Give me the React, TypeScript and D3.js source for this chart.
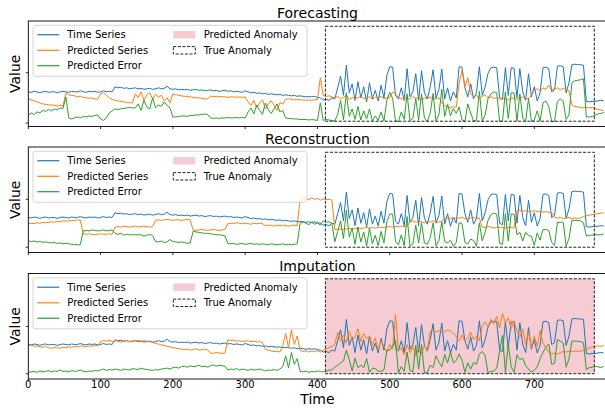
import React from "react";
import * as d3 from "d3";

// ---------- data (sampled every 4 time steps) ----------
const time = d3.range(0, 800, 4);

const timeSeries = [
  0.62,0.61,0.63,0.62,0.60,0.62,0.63,0.61,0.62,0.62,
  0.60,0.62,0.63,0.62,0.61,0.63,0.62,0.62,0.64,0.62,
  0.61,0.63,0.62,0.63,0.61,0.62,0.64,0.62,0.63,0.62,
  0.72,0.70,0.71,0.69,0.70,0.68,0.69,0.70,0.68,0.69,0.67,0.68,0.69,0.67,0.68,0.70,0.68,0.69,
  0.73,
  0.68,0.67,0.68,0.66,0.67,0.66,0.67,0.65,0.66,0.67,0.65,0.66,0.64,0.65,0.66,0.64,0.65,0.63,0.64,0.65,0.63,0.64,0.62,0.63,0.62,0.61,
  0.64,0.62,0.60,0.61,0.59,0.60,0.58,0.59,0.57,0.58,0.57,0.56,0.57,0.55,0.56,0.55,0.54,0.55,0.53,0.54,0.53,0.52,0.53,
  0.52,0.53,0.51,0.50,0.46,0.47,0.45,
  0.50,0.48,0.70,0.93,0.55,1.15,0.60,0.78,0.45,0.82,
  0.50,0.72,0.42,0.80,0.48,0.65,0.44,0.75,0.50,0.95,
  1.12,1.11,0.55,0.48,0.70,0.45,1.08,0.52,0.62,0.98,
  0.45,1.04,0.60,0.48,0.72,1.06,0.50,0.66,1.07,0.48,
  0.70,0.44,0.62,0.50,1.12,1.11,0.70,0.52,0.78,0.48,
  0.60,1.12,0.55,0.72,0.99,1.10,1.11,1.10,0.50,0.47,
  1.10,0.55,1.10,1.09,0.50,1.08,0.62,0.45,0.98,0.52,
  0.72,0.44,0.60,1.10,1.11,1.08,0.62,0.66,1.13,1.14,
  1.12,0.60,0.80,1.16,1.17,1.16,1.16,1.15,
  0.43,0.42,0.43,0.43,0.44,0.45,0.44,
];

const forecastPred = [
  0.49,0.46,0.44,0.42,0.40,0.38,0.37,0.36,0.36,0.35,0.34,0.35,0.34,
  0.60,
  0.56,0.55,0.54,0.52,0.53,0.51,0.50,0.49,0.50,0.48,0.47,
  0.58,0.60,0.55,
  0.50,0.47,0.45,0.44,0.43,0.42,0.41,0.40,0.40,
  0.58,0.50,0.62,0.45,0.56,0.60,0.48,0.57,0.52,0.55,0.44,0.50,
  0.40,
  0.58,0.56,0.55,0.54,0.53,0.53,0.52,0.51,0.50,0.50,0.49,0.48,0.48,
  0.53,0.53,0.52,0.53,0.52,0.52,0.51,0.52,0.52,0.51,0.52,0.51,0.52,
  0.42,0.35,0.45,0.30,0.40,0.46,0.28,0.38,0.44,0.36,0.25,0.40,0.38,
  0.47,0.48,0.47,0.46,0.47,0.46,0.46,0.45,0.46,0.45,0.46,0.47,0.90,
  0.55,0.53,0.54,
  0.52,0.50,0.53,0.48,0.51,0.55,0.47,0.50,0.52,0.49,
  0.54,0.48,0.50,0.52,0.47,0.51,0.49,0.53,0.48,0.50,
  0.51,0.62,0.58,0.50,0.48,0.52,0.50,0.47,0.53,0.49,
  0.51,0.46,0.50,0.48,0.52,0.47,0.49,0.50,0.40,0.35,
  0.32,0.30,0.33,0.31,0.80,1.05,0.72,0.90,0.58,0.52,
  0.55,0.49,0.53,0.56,0.50,0.52,0.49,0.50,0.47,0.51,
  0.48,0.46,0.50,0.49,0.47,0.50,0.52,0.48,0.49,0.55,
  0.66,0.68,0.64,0.70,0.67,0.75,0.65,0.68,0.70,0.66,
  0.69,0.67,0.64,0.36,0.33,0.32,0.31,0.30,
  0.31,0.30,0.31,0.29,0.27,0.26,0.24,
];

const forecastErr = [
  0.15,0.20,0.17,0.22,0.20,0.25,0.23,0.27,0.24,0.28,0.26,0.30,0.29,
  0.52,
  0.10,0.08,0.10,0.12,0.10,0.13,0.12,0.14,0.13,0.15,0.16,
  0.08,0.05,0.10,
  0.20,0.24,0.28,0.27,0.28,0.29,0.30,0.31,0.30,
  0.30,0.38,0.25,0.45,0.32,0.28,0.50,0.30,0.36,0.33,0.42,0.35,
  0.30,
  0.12,0.12,0.13,0.14,0.14,0.13,0.15,0.15,0.16,0.16,0.17,0.18,0.17,
  0.10,0.09,0.10,0.09,0.10,0.10,0.11,0.10,0.10,0.11,0.10,0.11,0.10,
  0.22,0.30,0.18,0.36,0.25,0.17,0.40,0.26,0.19,0.28,0.38,0.22,0.25,
  0.10,0.09,0.09,0.08,0.08,0.07,0.07,0.07,0.06,0.07,0.06,0.05,0.40,
  0.05,0.07,0.06,
  0.05,0.04,0.17,0.45,0.06,0.60,0.13,0.28,0.07,0.33,
  0.06,0.24,0.08,0.28,0.04,0.14,0.05,0.22,0.04,0.45,
  0.61,0.49,0.04,0.03,0.22,0.07,0.58,0.05,0.09,0.49,
  0.06,0.58,0.10,0.03,0.20,0.59,0.04,0.16,0.67,0.13,
  0.38,0.14,0.29,0.19,0.32,0.06,0.03,0.38,0.20,0.04,
  0.05,0.63,0.03,0.16,0.49,0.58,0.62,0.60,0.03,0.04,
  0.62,0.09,0.60,0.60,0.04,0.58,0.10,0.03,0.49,0.03,
  0.06,0.24,0.04,0.40,0.44,0.33,0.03,0.03,0.43,0.48,
  0.43,0.07,0.16,0.80,0.84,0.85,0.86,0.88,
  0.12,0.12,0.13,0.15,0.18,0.19,0.21,
];

const reconPred = [
  0.49,0.50,0.49,0.51,0.50,0.52,0.51,0.52,0.53,0.52,0.54,0.53,0.55,0.54,0.55,0.56,0.56,0.57,
  0.56,
  0.28,0.27,0.28,0.27,0.26,0.27,0.28,0.27,0.27,0.28,0.27,
  0.42,0.43,0.42,0.44,0.43,0.42,0.43,0.44,0.42,0.43,0.44,0.43,0.42,0.43,
  0.56,0.57,0.56,0.57,0.58,0.57,0.56,0.57,0.57,0.56,0.57,0.58,0.57,
  0.36,0.35,0.36,0.37,0.36,0.35,0.36,0.37,0.36,0.35,0.36,0.37,
  0.49,0.50,0.49,0.51,0.50,0.49,0.50,0.49,0.48,0.50,0.49,0.50,0.49,
  0.45,0.46,0.45,0.44,0.46,0.45,0.46,0.45,0.44,0.45,0.46,0.45,
  1.00,1.05,1.02,0.99,1.03,1.00,1.02,0.98,1.01,0.99,1.00,0.98,
  0.37,
  0.37,0.38,0.37,0.38,0.39,0.38,0.39,0.40,0.39,0.40,0.41,0.40,0.41,0.40,0.41,0.42,0.41,0.42,0.43,0.42,0.43,0.43,0.44,0.43,0.44,
  0.53,0.55,0.52,0.54,0.53,0.51,0.54,0.52,0.55,0.53,0.52,0.54,
  0.60,0.61,0.59,0.62,0.60,0.61,0.62,0.60,0.59,0.61,0.62,0.60,0.61,
  0.42,0.41,0.43,0.42,0.40,0.41,0.42,0.41,0.40,0.42,0.41,0.40,
  0.76,0.77,0.75,0.76,0.74,0.75,0.76,0.74,0.75,0.73,0.74,0.73,0.72,
  0.62,0.61,0.62,0.60,0.61,0.62,0.60,0.61,0.60,0.61,
  0.64,0.66,0.67,0.68,0.69,0.70,0.71,0.72,
];

const reconErr = [
  0.13,0.12,0.13,0.11,0.12,0.10,0.11,0.10,0.09,0.10,0.08,0.09,0.07,0.08,0.07,0.06,0.06,0.05,
  0.05,
  0.34,0.35,0.34,0.36,0.35,0.34,0.35,0.36,0.34,0.35,0.36,
  0.29,0.27,0.29,0.25,0.27,0.26,0.26,0.26,0.26,0.26,0.23,0.25,0.27,0.24,
  0.12,0.11,0.13,0.10,0.11,0.16,0.12,0.11,0.10,0.11,0.10,0.08,0.09,
  0.33,0.32,0.31,0.30,0.29,0.29,0.28,0.27,0.26,0.26,0.25,0.24,
  0.08,0.07,0.08,0.06,0.07,0.08,0.06,0.07,0.08,0.06,0.07,0.06,0.07,
  0.06,0.05,0.07,0.06,0.05,0.06,0.07,0.05,0.06,0.05,0.06,0.07,
  0.50,0.53,0.50,0.47,0.52,0.48,0.51,0.46,0.55,0.52,0.53,0.50,
  0.11,
  0.33,0.55,0.18,0.77,0.21,0.40,0.06,0.42,0.11,0.32,
  0.02,0.40,0.07,0.25,0.03,0.33,0.09,0.53,0.69,0.69,
  0.12,0.05,0.26,0.03,0.64,0.02,0.07,0.46,0.09,0.51,
  0.09,0.06,0.20,0.51,0.03,0.14,0.53,0.12,0.09,0.15,
  0.02,0.10,0.51,0.49,0.10,0.07,0.17,0.14,0.02,0.51,
  0.13,0.31,0.56,0.68,0.71,0.69,0.08,0.06,0.70,0.13,
  0.69,0.69,0.26,0.31,0.13,0.31,0.24,0.23,0.04,0.30,
  0.15,0.37,0.37,0.35,0.10,0.04,0.52,0.52,0.52,0.02,
  0.18,0.56,0.56,0.56,0.55,0.51,
  0.23,0.25,0.25,0.26,0.26,0.26,0.28,
];

const imputePred = [
  0.60,0.61,0.58,0.59,0.57,0.56,0.58,0.55,0.54,0.56,0.55,0.54,0.56,0.55,0.57,0.56,0.58,0.57,0.59,0.58,0.57,0.59,0.58,0.60,0.59,
  0.68,0.70,0.69,0.71,0.68,0.70,0.69,0.67,0.69,0.70,0.68,0.69,0.70,0.71,0.69,0.70,0.69,
  0.68,0.66,0.64,0.63,0.61,0.60,0.58,0.57,0.55,0.54,0.53,0.52,
  0.51,0.52,0.50,0.51,0.53,0.50,0.51,0.52,0.50,
  0.44,0.43,0.45,0.44,0.43,0.44,
  0.72,0.70,0.71,0.69,0.70,0.68,0.69,0.70,0.68,0.69,0.67,0.68,0.66,
  0.52,0.50,0.48,0.47,0.48,0.46,
  0.60,0.85,0.55,0.93,0.62,0.80,
  0.50,0.47,0.49,0.46,0.48,0.47,0.49,0.46,0.50,0.52,0.55,
  0.58,0.62,0.88,0.70,0.82,0.65,0.90,0.72,0.78,0.95,
  0.68,0.85,0.74,0.80,0.60,0.76,0.50,0.70,0.58,0.45,
  0.62,0.52,1.25,0.48,0.55,0.40,0.62,0.45,0.58,0.38,
  0.55,0.42,0.60,0.50,0.90,0.93,0.88,0.91,0.92,0.89,
  0.93,0.90,0.85,0.78,0.70,0.82,0.68,0.75,0.88,0.72,
  0.80,0.70,1.02,1.10,0.98,1.15,1.05,1.22,0.97,1.28,
  1.08,1.18,0.95,1.12,0.90,0.78,0.95,0.62,0.88,0.55,
  0.80,0.58,0.92,0.65,0.55,0.45,0.42,0.44,0.41,0.45,
  0.47,0.46,0.48,0.47,0.48,0.47,0.48,0.49,
  0.52,0.55,0.57,0.58,0.59,0.58,0.60,
];

const imputeErr = [
  0.03,0.04,0.05,0.03,0.06,0.04,0.05,0.07,0.04,0.06,0.05,0.08,0.05,0.06,0.04,0.07,0.05,0.06,0.08,0.05,0.04,0.06,0.05,0.07,0.06,
  0.08,0.10,0.07,0.09,0.08,0.10,0.09,0.07,0.10,0.09,0.08,0.11,0.10,0.09,0.12,0.10,0.09,
  0.08,0.07,0.09,0.08,0.10,0.11,0.12,0.10,0.13,0.14,0.12,0.15,
  0.16,0.14,0.17,0.15,0.16,0.18,0.15,0.16,0.14,
  0.17,0.19,0.16,0.18,0.17,0.16,
  0.08,0.10,0.09,0.11,0.08,0.10,0.09,0.07,0.10,0.08,0.09,0.10,0.08,
  0.06,0.08,0.07,0.09,0.07,0.10,
  0.15,0.38,0.12,0.45,0.20,0.32,
  0.05,0.04,0.06,0.03,0.05,0.04,0.06,0.05,0.04,0.05,0.08,
  0.08,0.14,0.18,0.23,0.27,0.50,0.30,0.06,0.33,0.13,
  0.18,0.13,0.32,0.03,0.12,0.11,0.06,0.05,0.08,0.50,
  0.50,0.59,0.70,0.02,0.15,0.05,0.46,0.07,0.04,0.60,
  0.10,0.62,0.02,0.03,0.18,0.13,0.38,0.25,0.15,0.41,
  0.23,0.46,0.23,0.28,0.42,0.29,0.03,0.23,0.10,0.24,
  0.20,0.42,0.47,0.38,0.02,0.05,0.06,0.12,0.47,0.81,
  0.03,0.63,0.15,0.03,0.40,0.30,0.33,0.17,0.10,0.03,
  0.08,0.14,0.32,0.45,0.56,0.63,0.20,0.22,0.72,0.69,
  0.65,0.14,0.32,0.69,0.69,0.69,0.68,0.66,
  0.09,0.13,0.14,0.15,0.15,0.13,0.16,
];

const xTicks = [0, 100, 200, 300, 400, 500, 600, 700];
const yTicks = [0, 1];
const trueAnomaly = [411, 783];
const imputePredictedAnomaly = [411, 783];
const panelTitles = ["Forecasting", "Reconstruction", "Imputation"];
const legendLines = ["Time Series", "Predicted Series", "Predicted Error"];
const legendPatches = ["Predicted Anomaly", "True Anomaly"];

// ---------- styling / layout ----------
const W = 605;
const H = 408;
const LEFT = 28.3;
const RIGHT = 606.6;
const PANEL_H = 105.5;
const BLUE = "#1f77b4";
const ORANGE = "#ff7f0e";
const GREEN = "#2ca02c";
const PINK = "#f6cbd3";
const FONT = "DejaVu Sans, sans-serif";

const panels = [
  { title: panelTitles[0], pred: forecastPred, err: forecastErr, top: 21, yDomain: [-0.07, 2.03], flagged: null as number[] | null },
  { title: panelTitles[1], pred: reconPred, err: reconErr, top: 147, yDomain: [-0.11, 2.09], flagged: null as number[] | null },
  { title: panelTitles[2], pred: imputePred, err: imputeErr, top: 273.5, yDomain: [-0.11, 2.12], flagged: imputePredictedAnomaly },
];

const x = d3.scaleLinear().domain([0, 800]).range([LEFT, RIGHT]);

function Panel({ p, idx, last }: { p: any; idx: number; last: boolean }) {
  const bottom = p.top + PANEL_H;
  const y = d3.scaleLinear().domain(p.yDomain).range([bottom, p.top]);
  const frac = d3.scaleLinear().domain([0, 1]).range([bottom, p.top]);
  const line = d3
    .line<number>()
    .x((_, i) => x(time[i]))
    .y((d) => y(d));
  const clipId = `clip-${idx}`;
  const rectY0 = frac(0.95);
  const rectY1 = frac(0.05);
  const lx = 33;
  const ly = p.top + 4.3;
  const rows = [9.4, 25, 40.4];
  return (
    <g>
      <defs>
        <clipPath id={clipId}>
          <rect x={LEFT} y={p.top} width={RIGHT - LEFT} height={PANEL_H} />
        </clipPath>
      </defs>
      <g clipPath={`url(#${clipId})`}>
        {p.flagged && (
          <rect
            x={x(p.flagged[0])}
            y={rectY0}
            width={x(p.flagged[1]) - x(p.flagged[0])}
            height={rectY1 - rectY0}
            fill={PINK}
          />
        )}
        <path d={line(timeSeries) || ""} fill="none" stroke={BLUE} strokeWidth={1} strokeLinejoin="round" />
        <path d={line(p.pred) || ""} fill="none" stroke={ORANGE} strokeWidth={1} strokeLinejoin="round" />
        <path d={line(p.err) || ""} fill="none" stroke={GREEN} strokeWidth={1} strokeLinejoin="round" />
        <rect
          x={x(trueAnomaly[0])}
          y={rectY0}
          width={x(trueAnomaly[1]) - x(trueAnomaly[0])}
          height={rectY1 - rectY0}
          fill="none"
          stroke="#222"
          strokeWidth={1}
          strokeDasharray="3,1.6"
        />
      </g>
      {/* spines */}
      <rect x={LEFT} y={p.top} width={RIGHT - LEFT} height={PANEL_H} fill="none" stroke="#000" strokeWidth={0.9} />
      {/* ticks */}
      {yTicks.map((t) => (
        <line key={`yt${t}`} x1={LEFT - 2.6} x2={LEFT} y1={y(t)} y2={y(t)} stroke="#000" strokeWidth={0.8} />
      ))}
      {xTicks.map((t) => (
        <line key={`xt${t}`} x1={x(t)} x2={x(t)} y1={bottom} y2={bottom + 2.6} stroke="#000" strokeWidth={0.8} />
      ))}
      {last &&
        xTicks.map((t) => (
          <text key={`xl${t}`} x={x(t)} y={bottom + 9} fontSize={10} textAnchor="middle" fontFamily={FONT} fill="#000">
            {t}
          </text>
        ))}
      {/* title */}
      <text x={(LEFT + RIGHT) / 2} y={p.top - 3} fontSize={14} textAnchor="middle" fontFamily={FONT} fill="#000">
        {p.title}
      </text>
      {/* y label */}
      <text
        transform={`translate(20,${(p.top + bottom) / 2}) rotate(-90)`}
        fontSize={14}
        textAnchor="middle"
        fontFamily={FONT}
        fill="#000"
      >
        Value
      </text>
      {/* legend */}
      <g fontFamily={FONT} fontSize={10}>
        <rect x={lx} y={ly} width={274} height={51} rx={2.5} fill="#fff" fillOpacity={0.8} stroke="#cccccc" strokeWidth={0.8} />
        {legendLines.map((lab, i) => (
          <g key={lab}>
            <line
              x1={37.3}
              x2={59.3}
              y1={ly + rows[i]}
              y2={ly + rows[i]}
              stroke={[BLUE, ORANGE, GREEN][i]}
              strokeWidth={1.2}
            />
            <text x={67.3} y={ly + rows[i] + 3.6} fill="#000">
              {lab}
            </text>
          </g>
        ))}
        <rect x={173.3} y={ly + rows[0] - 3.7} width={22} height={7.4} fill={PINK} />
        <text x={203.7} y={ly + rows[0] + 3.6} fill="#000">
          {legendPatches[0]}
        </text>
        <rect
          x={173.3}
          y={ly + rows[1] - 3.7}
          width={22}
          height={7.4}
          fill="none"
          stroke="#222"
          strokeWidth={1}
          strokeDasharray="3,1.6"
        />
        <text x={203.7} y={ly + rows[1] + 3.6} fill="#000">
          {legendPatches[1]}
        </text>
      </g>
    </g>
  );
}

export default function App() {
  return (
    <svg
      width={W}
      height={H}
      viewBox={`0 0 ${W} ${H}`}
      style={{ position: "absolute", left: 0, top: 0, background: "#fff" }}
    >
      <rect x={0} y={0} width={W} height={H} fill="#fff" />
      {panels.map((p, i) => (
        <Panel key={p.title} p={p} idx={i} last={i === panels.length - 1} />
      ))}
      <text x={(LEFT + RIGHT) / 2} y={404} fontSize={14} textAnchor="middle" fontFamily={FONT} fill="#000">
        Time
      </text>
    </svg>
  );
}
